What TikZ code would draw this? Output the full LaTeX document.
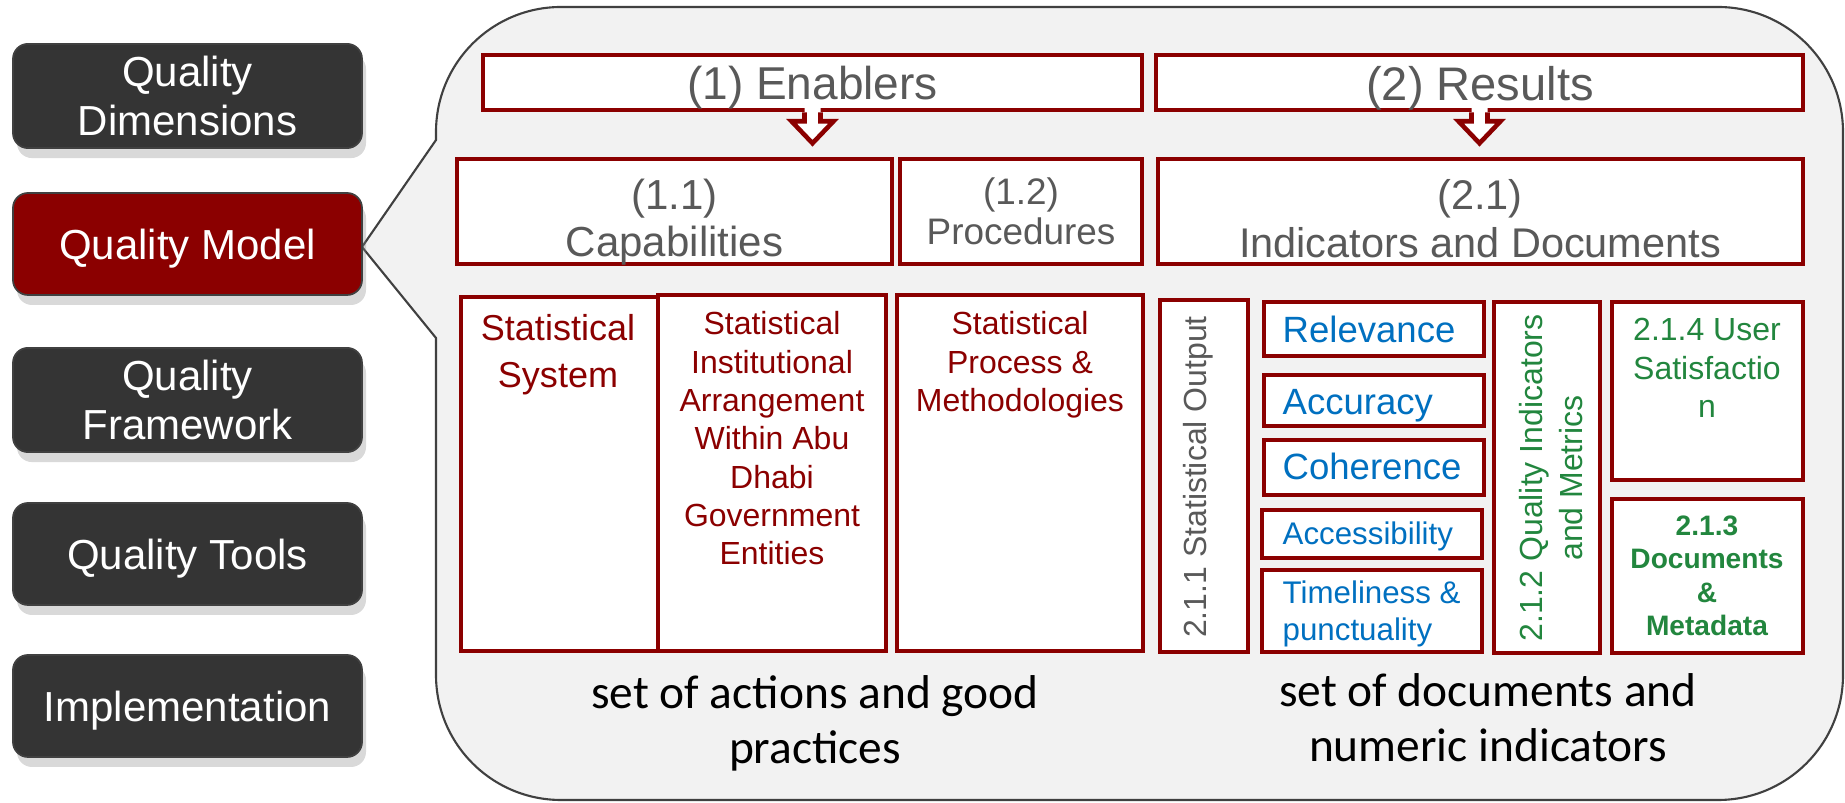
\documentclass[tikz,border=0pt]{standalone}
\usepackage{fontspec}
\setmainfont{Liberation Sans}
\newfontfamily\calibfont{Carlito}
\usetikzlibrary{shadows,fit}

\definecolor{qred}{RGB}{139,0,0}
\definecolor{qgray}{RGB}{89,89,89}
\definecolor{qblue}{RGB}{0,112,192}
\definecolor{qgreen}{RGB}{34,134,62}
\definecolor{btngray}{RGB}{52,52,52}
\definecolor{calloutfill}{RGB}{242,242,242}

\newcommand\fsz[2]{\fontsize{#1}{#2}\selectfont}

\tikzset{
	redbox/.style={draw=qred, line width=1.3pt, fill=white, inner sep=0pt},
	btn/.style={rounded corners=1.5mm, fill=btngray, draw=black!75, line width=0.5pt,
		text=white, minimum width=34.9mm, minimum height=10.2mm, align=center,
		font=\fsz{11.95}{14.2}, drop shadow={shadow xshift=0.4mm, shadow yshift=-1mm, opacity=0.3}},
	oneline/.style={text height=11.6pt, text depth=2.5pt},
	txt/.style={inner sep=0pt, align=center},
	blockarr/.style={draw=qred, line width=1.3pt},
}

\begin{document}
\begin{tikzpicture}[x=0.1mm, y=-0.1mm]
	\useasboundingbox (0,0) rectangle (1845,803);
	% callout
	\draw[draw=black!75, fill=calloutfill, line width=0.6pt] (436,140) [rounded corners=12.5mm] -- (436,7) -- (1843,7) -- (1843,800) -- (436,800) [sharp corners] -- (436,338) -- (362,247) -- cycle;
	% left buttons
	\node[btn] (dim) at (187.5,96) {Quality\\Dimensions};
	\node[btn, oneline, fill=qred] (model) at (187.5,244) {Quality Model};
	\node[btn] (frame) at (187.5,400) {Quality\\Framework};
	\node[btn, oneline] (tools) at (187.5,554) {Quality Tools};
	\node[btn, oneline] (impl) at (187.5,706) {Implementation};
	% boxes
	\node[redbox, fit={(483,55) (1142,110)}] (enab) {};
	\node[redbox, fit={(1156,55) (1803,110)}] (res) {};
	\node[redbox, fit={(457,159) (892,264)}] (cap) {};
	\node[redbox, fit={(900,159) (1142,264)}] (proc) {};
	\node[redbox, fit={(1158,159) (1803,264)}] (ind) {};
	\node[redbox, fit={(461,297) (658,651)}] (sys) {};
	\node[redbox, fit={(658,295) (886,651)}] (inst) {};
	\node[redbox, fit={(897,295) (1143,651)}] (meth) {};
	\node[redbox, fit={(1160,300) (1248,652)}] (out) {};
	\node[redbox, fit={(1264,302) (1484,356)}] (rel) {};
	\node[redbox, fit={(1264,375) (1484,426)}] (acc) {};
	\node[redbox, fit={(1264,440) (1484,495)}] (coh) {};
	\node[redbox, fit={(1262,510) (1482,558)}] (accs) {};
	\node[redbox, fit={(1262,570) (1482,652)}] (time) {};
	\node[redbox, fit={(1494,302) (1600,653)}] (qim) {};
	\node[redbox, fit={(1612,302) (1803,480)}] (usr) {};
	\node[redbox, fit={(1612,499) (1803,653)}] (doc) {};
	% block arrows
	\fill[white] ([shift={(-8,-5)}]enab.south) -- ++(0,14) -- ++(-13,0) -- ++(21,22) -- ++(21,-22) -- ++(-13,0) -- ++(0,-14) -- cycle;
	\draw[blockarr] ([xshift=-0.8mm]enab.south) -- ++(0,9) -- ++(-13,0) -- ++(21,22) -- ++(21,-22) -- ++(-13,0) -- ++(0,-9);
	\fill[white] ([shift={(-8,-5)}]res.south) -- ++(0,14) -- ++(-13,0) -- ++(21,22) -- ++(21,-22) -- ++(-13,0) -- ++(0,-14) -- cycle;
	\draw[blockarr] ([xshift=-0.8mm]res.south) -- ++(0,9) -- ++(-13,0) -- ++(21,22) -- ++(21,-22) -- ++(-13,0) -- ++(0,-9);
	% texts
	\node[txt, text=qgray, font=\fsz{13.1}{15.7}] (enabt) at (812.5,88) {(1) Enablers};
	\node[txt, text=qgray, font=\fsz{13.4}{16}] (rest) at (1480,88) {(2) Results};
	\node[txt, text=qgray, font=\fsz{11.95}{13.4}] (capt) at (674.5,222.5) {(1.1)\\Capabilities};
	\node[txt, text=qgray, font=\fsz{10.5}{11.4}] (proct) at (1021,211.5) {(1.2)\\Procedures};
	\node[txt, text=qgray, font=\fsz{11.8}{13.65}] (indt) at (1480,219) {(2.1)\\Indicators and Documents};
	\node[txt, text=qred, font=\fsz{10.25}{13.4}] (syst) at (558,354.5) {Statistical\\System};
	\node[txt, text=qred, font=\fsz{9.1}{10.9}] (instt) at (772,438.5) {Statistical\\Institutional\\Arrangement\\Within Abu\\Dhabi\\Government\\Entities};
	\node[txt, text=qred, font=\fsz{9.1}{10.9}] (metht) at (1020,365) {Statistical\\Process \&\\Methodologies};
	\node[txt, text=qgray, font=\fsz{9.1}{10.9}, rotate=90] (outt) at (1198,477) {2.1.1 Statistical Output};
	\node[txt, text=qblue, font=\fsz{10.4}{12}, anchor=base west] (relt) at (1282,343) {Relevance};
	\node[txt, text=qblue, font=\fsz{10.4}{12}, anchor=base west] (acct) at (1282,415) {Accuracy};
	\node[txt, text=qblue, font=\fsz{10.4}{12}, anchor=base west] (coht) at (1282,480) {Coherence};
	\node[txt, text=qblue, font=\fsz{8.9}{10.5}, anchor=base west] (accst) at (1282,545) {Accessibility};
	\node[txt, text=qblue, font=\fsz{8.9}{10.5}, anchor=north west, align=left] (timet) at (1282,580) {Timeliness \&\\punctuality};
	\node[txt, text=qgreen, font=\fsz{9.1}{11.4}, rotate=90] (qimt) at (1551.5,478) {2.1.2 Quality Indicators\\and Metrics};
	\node[txt, text=qgreen, font=\fsz{9.1}{10.95}] (usrt) at (1707,368) {2.1.4 User\\Satisfactio\\n};
	\node[txt, text=qgreen, font=\bfseries\fsz{8}{9.5}] (doct) at (1707,576) {2.1.3\\Documents\\\&\\Metadata};
	\node[txt, font=\calibfont\fsz{13.5}{15.6}] (leftt) at (815,723.5) {set of actions and good\\practices};
	\node[txt, font=\calibfont\fsz{13.5}{15.6}] (rightt) at (1488,718) {set of documents and\\numeric indicators};
\end{tikzpicture}
\end{document}
